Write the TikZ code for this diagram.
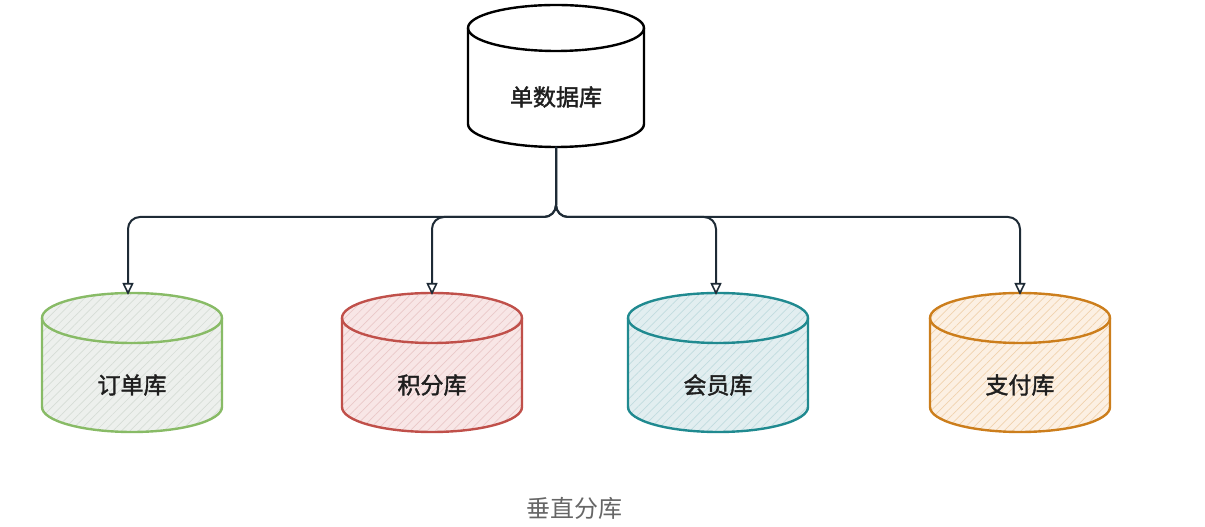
\documentclass[tikz,border=0pt]{standalone}
\usepackage{fontspec}
\newfontfamily\cjk{Noto Sans CJK SC}
\newfontfamily\cjkb[FakeBold=1.6]{Noto Sans CJK SC}
\usetikzlibrary{arrows.meta,patterns.meta}
\definecolor{conncol}{HTML}{1E2B36}
\definecolor{gS}{HTML}{88BB66}\definecolor{gF}{HTML}{EDF0ED}\definecolor{gH}{HTML}{D6DDD6}
\definecolor{rS}{HTML}{C0504A}\definecolor{rF}{HTML}{F8E6E6}\definecolor{rH}{HTML}{EAC8C8}
\definecolor{tS}{HTML}{208A90}\definecolor{tF}{HTML}{E2EEF0}\definecolor{tH}{HTML}{C1DCDF}
\definecolor{oS}{HTML}{CC7E1C}\definecolor{oF}{HTML}{FCF0E3}\definecolor{oH}{HTML}{F0D2AE}
\definecolor{capcol}{HTML}{666666}
% \cylbody{cx}{topY}{botY}{rx}{ry}{stroke}{fill}{hatch}
\newcommand{\cylbody}[8]{%
  \path[fill=#7,postaction={pattern={Lines[angle=45,distance=6pt,line width=0.7pt]},pattern color=#8}]
    (#1-#4,#2) -- (#1-#4,#3) arc[start angle=180,end angle=360,x radius=#4pt,y radius=#5pt]
    -- (#1+#4,#2) arc[start angle=0,end angle=180,x radius=#4pt,y radius=#5pt] -- cycle;
  \draw[#6,line width=2.4pt,line join=round]
    (#1-#4,#2) -- (#1-#4,#3) arc[start angle=180,end angle=360,x radius=#4pt,y radius=#5pt]
    -- (#1+#4,#2);
  \draw[#6,line width=2.4pt] (#1,#2) ellipse[x radius=#4pt,y radius=#5pt];
}
\tikzset{
  cylbox/.style={inner sep=0pt,outer sep=0pt,minimum width=#1},
  lbl/.style={font=\cjkb\fontsize{23}{27}\selectfont,text=black!88},
  conn/.style={draw=conncol,line width=2pt,rounded corners=12pt,
    -{Triangle[open,length=12pt,width=11pt,line width=1.6pt]}},
}
\begin{document}
\begin{tikzpicture}[x=1pt,y=1pt]
\useasboundingbox (0,0) rectangle (1205,527);
% top cylinder
\cylbody{556}{499}{403}{88}{23}{black}{white}{white}
\node[cylbox=176pt,minimum height=142pt] (top) at (556,451) {};
\node[lbl] (topl) at (556,430) {单数据库};
% bottom cylinders
\cylbody{132}{209}{120}{90}{25}{gS}{gF}{gH}
\cylbody{432}{209}{120}{90}{25}{rS}{rF}{rH}
\cylbody{718}{209}{120}{90}{25}{tS}{tF}{tH}
\cylbody{1020}{209}{120}{90}{25}{oS}{oF}{oH}
\node[cylbox=180pt,minimum height=139pt] (d1) at (128,164.5) {};
\node[cylbox=180pt,minimum height=139pt] (d2) at (432,164.5) {};
\node[cylbox=180pt,minimum height=139pt] (d3) at (716,164.5) {};
\node[cylbox=180pt,minimum height=139pt] (d4) at (1020,164.5) {};
\node[lbl] (l1) at (132,142) {订单库};
\node[lbl] (l2) at (432,142) {积分库};
\node[lbl] (l3) at (718,142) {会员库};
\node[lbl] (l4) at (1020,142) {支付库};
% connectors
\coordinate (fork) at (556,310);
\foreach \d in {d1,d2,d3,d4}{
  \draw[conn] (top.south) -- (fork) -| ([yshift=-2pt]\d.north);
}
% caption
\node[font=\cjk\fontsize{24}{28}\selectfont,text=capcol] (cap) at (574,19) {垂直分库};
\end{tikzpicture}
\end{document}
